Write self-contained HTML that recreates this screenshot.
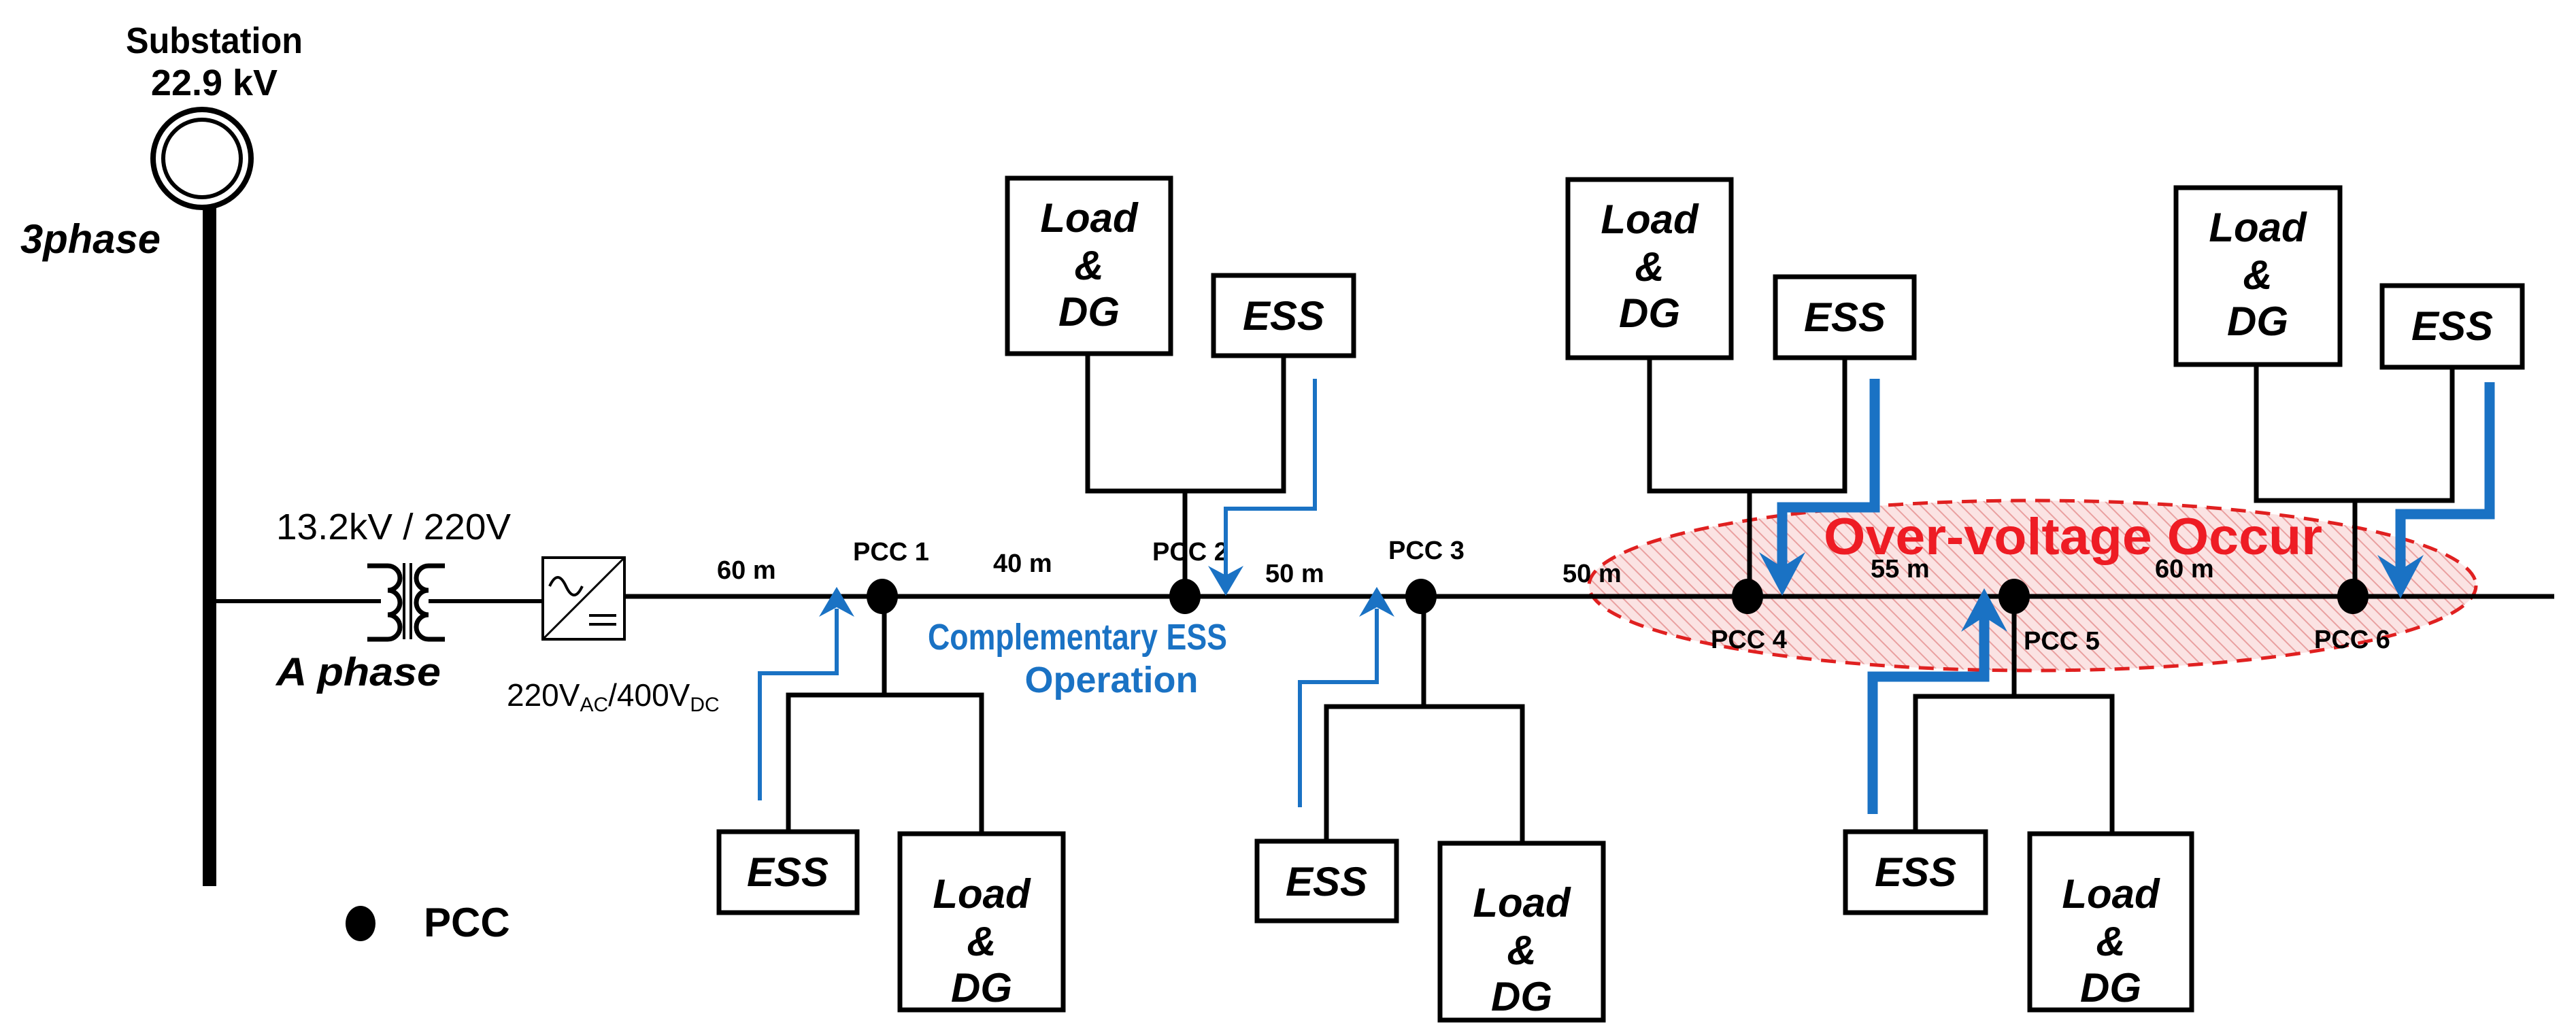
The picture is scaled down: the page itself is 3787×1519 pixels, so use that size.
<!DOCTYPE html>
<html><head><meta charset="utf-8"><style>html,body{margin:0;padding:0;background:#fff}svg{display:block}</style></head>
<body>
<svg xmlns="http://www.w3.org/2000/svg" width="3787" height="1519" viewBox="0 0 3787 1519">
<defs>
<pattern id="h" patternUnits="userSpaceOnUse" width="14" height="14" patternTransform="rotate(-45)">
<rect width="14" height="14" fill="#fbe3e3"/>
<line x1="0" y1="0" x2="0" y2="14" stroke="#e9a0a0" stroke-width="4"/>
</pattern>
</defs>
<g font-family="'Liberation Sans', sans-serif" font-weight="bold">
<text x="315" y="78" font-size="54" text-anchor="middle" textLength="260" lengthAdjust="spacingAndGlyphs">Substation</text>
<text x="315" y="140" font-size="54" text-anchor="middle">22.9 kV</text>
<circle cx="297" cy="233" r="72" fill="none" stroke="#000" stroke-width="8"/>
<circle cx="297" cy="233" r="57" fill="none" stroke="#000" stroke-width="6"/>
<rect x="298" y="302" width="20" height="1001" fill="#000"/>
<text x="30" y="372" font-size="60" font-style="italic" textLength="206" lengthAdjust="spacingAndGlyphs">3phase</text>
<line x1="310" y1="884" x2="560" y2="884" stroke="#000" stroke-width="6"/>
<path d="M540 832 h30 a18 18 0 0 1 0 36 a18 18 0 0 1 0 36 a18 18 0 0 1 0 36 h-30" fill="none" stroke="#000" stroke-width="7"/>
<line x1="594" y1="828" x2="594" y2="940" stroke="#000" stroke-width="4"/>
<line x1="604" y1="828" x2="604" y2="940" stroke="#000" stroke-width="4"/>
<path d="M654 832 h-24 a18 18 0 0 0 0 36 a18 18 0 0 0 0 36 a18 18 0 0 0 0 36 h24" fill="none" stroke="#000" stroke-width="7"/>
<line x1="630" y1="884" x2="800" y2="884" stroke="#000" stroke-width="6"/>
<text x="406" y="793" font-size="54" font-weight="normal" textLength="345" lengthAdjust="spacingAndGlyphs">13.2kV / 220V</text>
<text x="406" y="1008" font-size="58" font-style="italic" textLength="242" lengthAdjust="spacingAndGlyphs">A phase</text>
<rect x="798" y="820" width="120" height="120" fill="#fff" stroke="#000" stroke-width="4"/>
<line x1="800" y1="938" x2="916" y2="822" stroke="#000" stroke-width="3"/>
<path d="M808 862 q12 -26 24 0 t24 0" fill="none" stroke="#000" stroke-width="4"/>
<line x1="866" y1="905" x2="906" y2="905" stroke="#000" stroke-width="4"/>
<line x1="866" y1="918" x2="906" y2="918" stroke="#000" stroke-width="4"/>
<text x="745" y="1038" font-size="46" font-weight="normal">220V<tspan font-size="30" dy="8">AC</tspan><tspan dy="-8">/400V</tspan><tspan font-size="30" dy="8">DC</tspan></text>
<ellipse cx="2988" cy="861" rx="652" ry="125" fill="url(#h)" stroke="#e02020" stroke-width="5" stroke-dasharray="22 14"/>
<line x1="918" y1="877" x2="3755" y2="877" stroke="#000" stroke-width="7"/>
<g font-size="38">
<text x="1054" y="851">60 m</text>
<text x="1460" y="841">40 m</text>
<text x="1860" y="856">50 m</text>
<text x="2297" y="856">50 m</text>
<text x="2750" y="849">55 m</text>
<text x="3168" y="849">60 m</text>
</g>
<g font-size="38">
<text x="1254" y="824">PCC 1</text>
<text x="1694" y="824">PCC 2</text>
<text x="2041" y="822">PCC 3</text>
<text x="2515" y="953">PCC 4</text>
<text x="2975" y="955">PCC 5</text>
<text x="3402" y="953">PCC 6</text>
</g>
<g stroke="#000" stroke-width="7" fill="none">
<path d="M1300 877 V1022 M1159 1223 V1022 H1443 V1226"/>
<path d="M1742 877 V722 M1599 520 V722 H1887 V523"/>
<path d="M2093 877 V1039 M1950 1237 V1039 H2238 V1240"/>
<path d="M2572 877 V722 M2425 526 V722 H2712 V526"/>
<path d="M2961 877 V1024 M2816 1223 V1024 H3105 V1226"/>
<path d="M3462 877 V736 M3317 536 V736 H3605 V540"/>
</g>
<g fill="#fff" stroke="#000" stroke-width="7">
<rect x="1057" y="1223" width="203" height="119"/>
<rect x="1323" y="1226" width="240" height="259"/>
<rect x="1481" y="262" width="240" height="258"/>
<rect x="1784" y="405" width="206" height="118"/>
<rect x="1848" y="1237" width="205" height="117"/>
<rect x="2117" y="1240" width="240" height="260"/>
<rect x="2305" y="264" width="240" height="262"/>
<rect x="2610" y="407" width="204" height="119"/>
<rect x="2713" y="1223" width="206" height="119"/>
<rect x="2984" y="1226" width="238" height="259"/>
<rect x="3199" y="276" width="241" height="260"/>
<rect x="3502" y="420" width="206" height="120"/>
</g>
<g font-size="60" font-style="italic" text-anchor="middle">
<text x="1158" y="1303">ESS</text>
<text x="1443" y="1335">Load</text><text x="1443" y="1405">&amp;</text><text x="1443" y="1473">DG</text>
<text x="1601" y="341">Load</text><text x="1601" y="411">&amp;</text><text x="1601" y="479">DG</text>
<text x="1887" y="485">ESS</text>
<text x="1950" y="1317">ESS</text>
<text x="2237" y="1348">Load</text><text x="2237" y="1418">&amp;</text><text x="2237" y="1486">DG</text>
<text x="2425" y="343">Load</text><text x="2425" y="413">&amp;</text><text x="2425" y="481">DG</text>
<text x="2712" y="487">ESS</text>
<text x="2816" y="1303">ESS</text>
<text x="3103" y="1335">Load</text><text x="3103" y="1405">&amp;</text><text x="3103" y="1473">DG</text>
<text x="3319" y="355">Load</text><text x="3319" y="425">&amp;</text><text x="3319" y="493">DG</text>
<text x="3605" y="500">ESS</text>
</g>
<g fill="#000">
<ellipse cx="1297" cy="877" rx="23" ry="26"/>
<ellipse cx="1742" cy="877" rx="23" ry="26"/>
<ellipse cx="2089" cy="877" rx="23" ry="26"/>
<ellipse cx="2569" cy="877" rx="23" ry="26"/>
<ellipse cx="2961" cy="877" rx="23" ry="26"/>
<ellipse cx="3459" cy="877" rx="23" ry="26"/>
<ellipse cx="530" cy="1358" rx="22" ry="26"/>
</g>
<text x="623" y="1377" font-size="60">PCC</text>
<g stroke="#1a72c4" fill="none" stroke-width="6">
<path d="M1117 1177 V990 H1230 V895"/>
<path d="M1933 557 V748 H1802 V850"/>
<path d="M1911 1187 V1003 H2024 V895"/>
</g>
<g fill="#1a72c4">
<path d="M1230 863 l-26 44 l26 -14 l26 14 z"/>
<path d="M1802 876 l-26 -44 l26 14 l26 -14 z"/>
<path d="M2024 863 l-26 44 l26 -14 l26 14 z"/>
</g>
<g stroke="#1a72c4" fill="none" stroke-width="15">
<path d="M2756 557 V746 H2620 V845"/>
<path d="M2753 1197 V995 H2917 V900"/>
<path d="M3660 562 V756 H3529 V850"/>
</g>
<g fill="#1a72c4">
<path d="M2620 876 l-34 -64 l34 22 l34 -22 z"/>
<path d="M2917 865 l-34 64 l34 -22 l34 22 z"/>
<path d="M3529 880 l-34 -64 l34 22 l34 -22 z"/>
</g>
<text x="1364" y="955" font-size="54" fill="#1a72c4" textLength="440" lengthAdjust="spacingAndGlyphs">Complementary ESS</text>
<text x="1634" y="1018" font-size="54" fill="#1a72c4" text-anchor="middle">Operation</text>
<text x="2681" y="815" font-size="76" fill="#ee1c24" textLength="733" lengthAdjust="spacingAndGlyphs">Over-voltage Occur</text>
</g>
</svg>
</body></html>
